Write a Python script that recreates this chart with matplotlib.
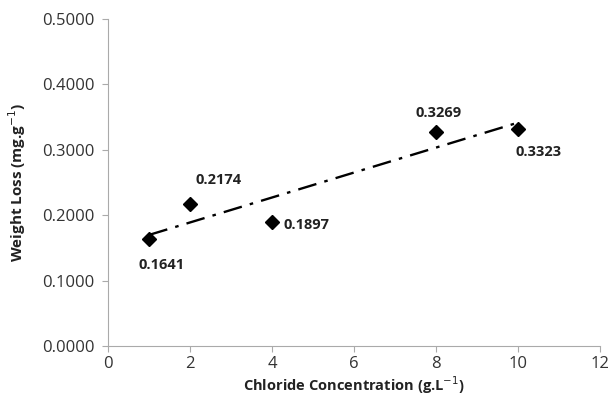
import numpy as np
import matplotlib
matplotlib.use('Agg')
import matplotlib.pyplot as plt

# data
conc = [1, 2, 4, 8, 10]
loss = [0.1641, 0.2174, 0.1897, 0.3269, 0.3323]
labels = ['0.1641', '0.2174', '0.1897', '0.3269', '0.3323']
# label offsets in points (dx, dy)
offsets = [(-8, -24), (4, 12), (8, -7), (-15, 9), (-2, -22)]

plt.rcParams['font.family'] = ['Open Sans', 'DejaVu Sans']

fig = plt.figure(figsize=(6.08, 4.09), dpi=100)
ax = fig.add_axes([0.178, 0.154, 0.809, 0.800])

# linear trendline
slope, intercept = np.polyfit(conc, loss, 1)
xt = np.array([min(conc), max(conc)])
ax.plot(xt, slope * xt + intercept, color='black', linestyle=(0, (8, 3.5, 1.5, 3.5)), linewidth=1.7)

ax.plot(conc, loss, 'D', color='black', markersize=7.5, linestyle='none')

for x, y, t, (dx, dy) in zip(conc, loss, labels, offsets):
    ax.annotate(t, (x, y), xytext=(dx, dy), textcoords='offset points',
                fontsize=10.5, fontweight='bold', color='#222222', va='bottom', ha='left')

ax.set_xlim(0, 12)
ax.set_ylim(0, 0.5)
ax.set_xticks(range(0, 13, 2))
ax.set_yticks(np.arange(0, 0.51, 0.1))
ax.set_yticklabels(['%.4f' % v for v in np.arange(0, 0.51, 0.1)])

for s in ['top', 'right']:
    ax.spines[s].set_visible(False)
for s in ['left', 'bottom']:
    ax.spines[s].set_color('#aaaaaa')
ax.tick_params(colors='#aaaaaa', labelcolor='#333333', labelsize=12, length=4)
ax.tick_params(axis='y', pad=6)

ax.set_xlabel('Chloride Concentration (g.L$^{-1}$)', fontsize=10.5, fontweight='bold', color='#222222', labelpad=1)
ax.set_ylabel('Weight Loss (mg.g$^{-1}$)', fontsize=11, fontweight='bold', color='#222222', labelpad=10)

fig.savefig('out.png', dpi=100)
